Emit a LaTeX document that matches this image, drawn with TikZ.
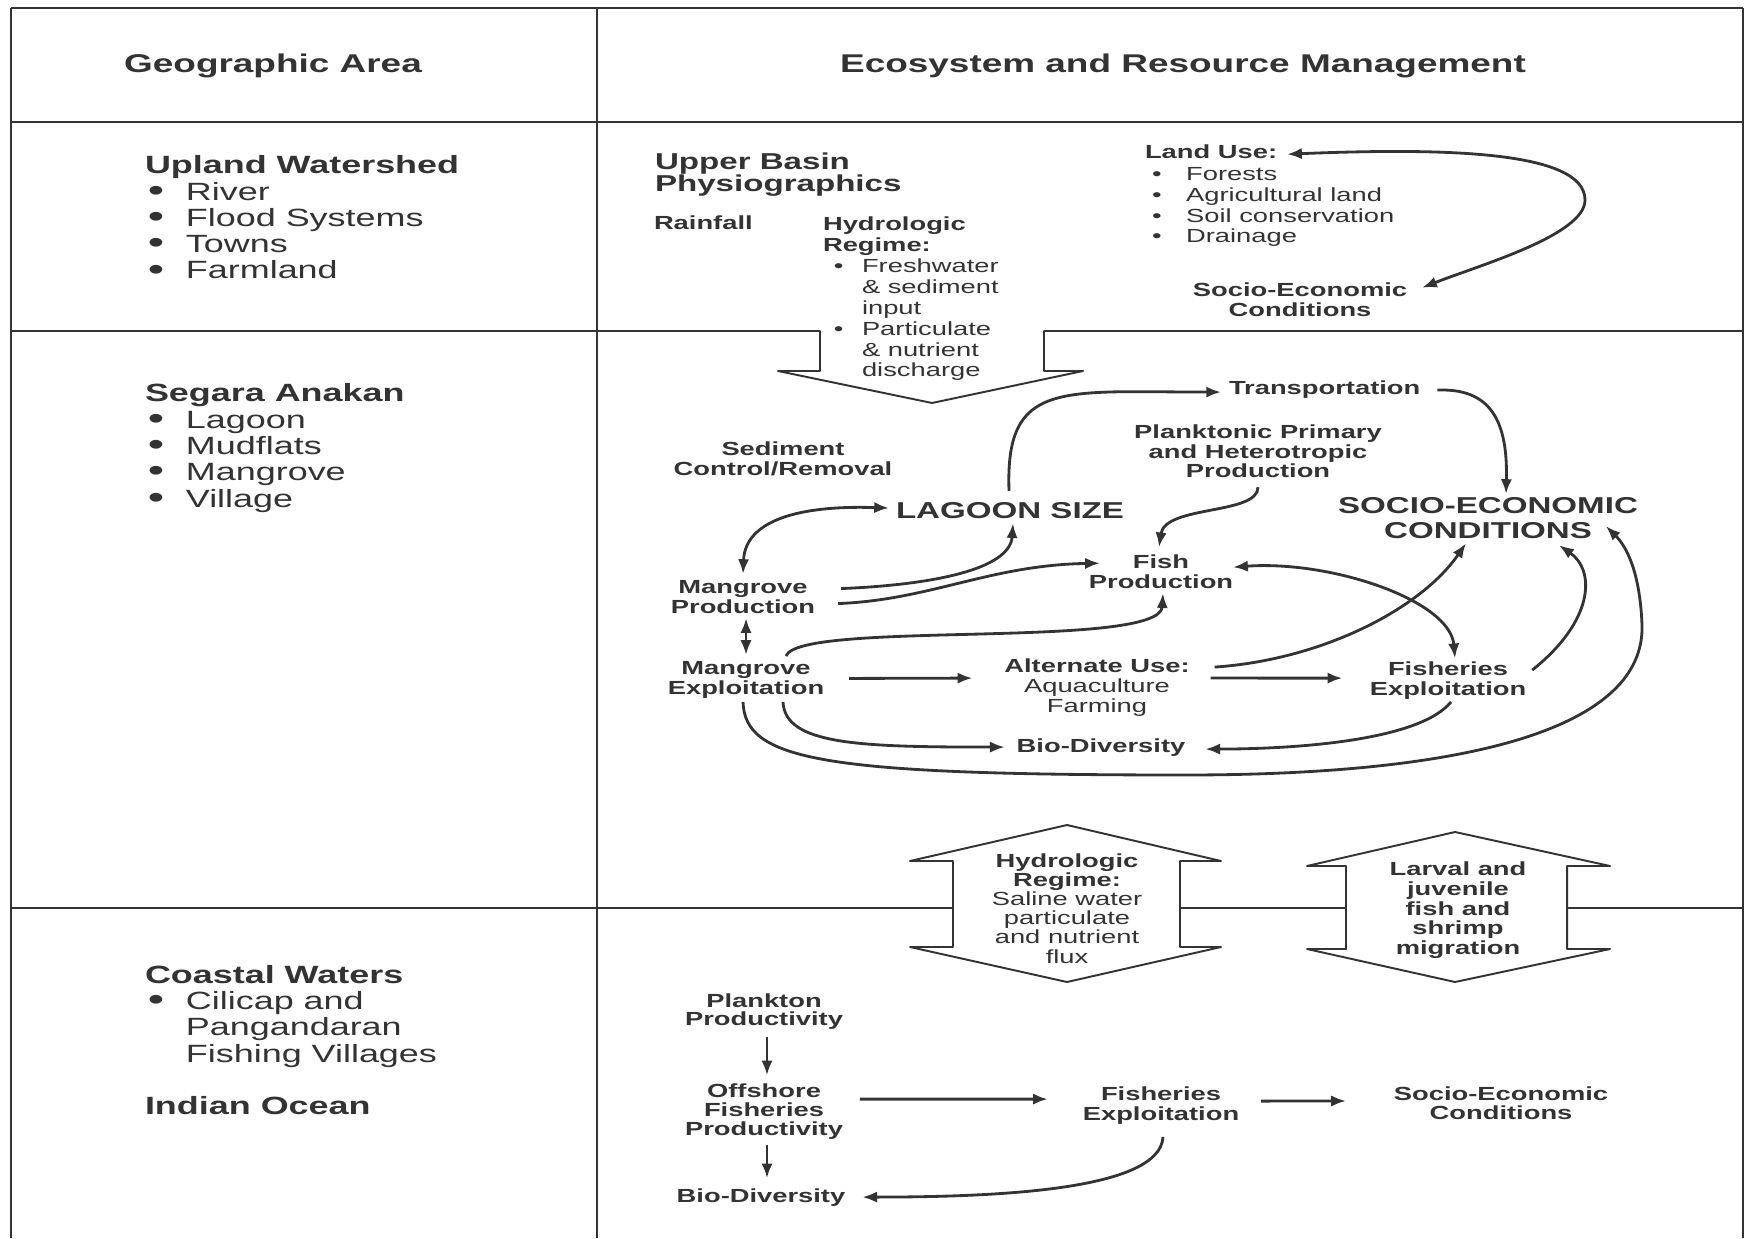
\documentclass[tikz,border=0pt]{standalone}
\usepackage{fontspec}
\usepackage{graphicx}
\setmainfont[FakeStretch=1.44]{Liberation Sans}
\usetikzlibrary{arrows.meta}
\definecolor{ink}{HTML}{333333}
\newcommand{\setfs}[2]{\fontsize{#1pt}{#2pt}\selectfont\lineskiplimit=-10pt\relax}
% left column bullets
\newcommand{\lbul}{\hspace*{0.85pt}\makebox[10.8pt][l]{\smash{\raisebox{-0.3pt}{\scalebox{1.3}{\textbullet}}}}}
\newcommand{\lind}{\hspace*{11.65pt}}
% Hydrologic regime bullets
\newcommand{\hbul}{\hspace*{3.1pt}\makebox[8pt][l]{\textbullet}}
\newcommand{\hind}{\hspace*{11.1pt}}
% Land use bullets
\newcommand{\ubul}{\hspace*{2pt}\makebox[9.7pt][l]{\textbullet}}
\tikzset{
  txt/.style={inner sep=0pt, outer sep=0pt, text=ink, align=center, anchor=base},
  hdr/.style={txt, font=\setfs{7.3}{8}\bfseries},
  lcol/.style={txt, align=left, anchor=base west, font=\setfs{7.1}{7.47}},
  bc/.style={txt, font=\setfs{5.4}{#1}\bfseries},
  bc/.default=5.69,
  bl/.style={txt, align=left, anchor=base west, font=\setfs{5.4}{#1}\bfseries},
  bl/.default=5.69,
  rl/.style={txt, align=left, anchor=base west, font=\setfs{5.4}{#1}},
  rl/.default=5.97,
  big/.style={txt, font=\setfs{6.54}{6.83}\bfseries},
  tbl/.style={draw=ink, line width=0.55pt},
  arr/.style={draw=ink, line width=0.8pt, -{Latex[length=4.2pt,width=3.2pt]}},
  darr/.style={draw=ink, line width=0.8pt, {Latex[length=4.2pt,width=3.2pt]}-{Latex[length=4.2pt,width=3.2pt]}}
}
\begin{document}
\begin{tikzpicture}[x=0.1mm,y=-0.1mm,line join=round]
\fill[white] (0,0) rectangle (1746,1238);
\useasboundingbox (0,0) rectangle (1746,1238);

% ---------- table frame ----------
\draw[tbl] (11,8) -- (1743,8);
\draw[tbl] (11,8) -- (11,1238);
\draw[tbl] (597,8) -- (597,1238);
\draw[tbl] (1743,8) -- (1743,1238);
\draw[tbl] (11,122) -- (1743,122);
% row line 1 with downward block arrow
\draw[tbl] (11,331) -- (820,331) -- (820,371) -- (778,371) -- (932,403) -- (1083,371) -- (1044,371) -- (1044,331) -- (1743,331);
% row line 2 with two double block arrows
\draw[tbl] (11,908) -- (953,908);
\draw[tbl] (1180,908) -- (1346,908);
\draw[tbl] (1567,908) -- (1743,908);
\draw[tbl] (953,861) -- (910,861) -- (1067,825) -- (1221,861) -- (1180,861) -- (1180,947) -- (1221,947) -- (1067,982) -- (910,947) -- (953,947) -- cycle;
\draw[tbl] (1346,866) -- (1307,866) -- (1455,832) -- (1610,866) -- (1567,866) -- (1567,949) -- (1610,949) -- (1455,982) -- (1307,949) -- (1346,949) -- cycle;

% ---------- headers ----------
\node[hdr] (ga) at (273,73) {Geographic Area};
\node[hdr] (erm) at (1183,73) {Ecosystem and Resource Management};

% ---------- left column (anchor = baseline of last line) ----------
\node[lcol] (uw) at (145,279) {\textbf{Upland Watershed}\\\lbul River\\\lbul Flood Systems\\\lbul Towns\\\lbul Farmland};
\node[lcol] (sa) at (145,507) {\textbf{Segara Anakan}\\\lbul Lagoon\\\lbul Mudflats\\\lbul Mangrove\\\lbul Village};
\node[lcol] (cw) at (145,1062) {\textbf{Coastal Waters}\\\lbul Cilicap and\\\lind Pangandaran\\\lind Fishing Villages};
\node[lcol] (io) at (145,1114) {\textbf{Indian Ocean}};

% ---------- row 1 ----------
\node[txt, align=left, anchor=base west, font=\setfs{6.54}{6.54}\bfseries] (ub) at (655,192) {Upper Basin\\Physiographics};
\node[bl] (rain) at (654,230) {Rainfall};
\node[rl=5.97] (hr) at (823,377) {\textbf{Hydrologic}\\\textbf{Regime:}\\\hbul Freshwater\\\hind\& sediment\\\hind input\\\hbul Particulate\\\hind\& nutrient\\\hind discharge};
\node[bl] (lu) at (1145,159) {Land Use:};
\node[rl=5.97] (lul) at (1145,243) {\ubul Forests\\\ubul Agricultural land\\\ubul Soil conservation\\\ubul Drainage};
\node[bc=5.97] (sec1) at (1300,317) {Socio-Economic\\Conditions};

% ---------- row 2 ----------
\node[bl] (trans) at (1229,395) {Transportation};
\node[bc=5.69] (plank) at (1258,478) {Planktonic Primary\\and Heterotropic\\Production};
\node[bc=5.69] (sed) at (783,475) {Sediment\\Control/Removal};
\node[big] (lagoon) at (1010,518) {LAGOON SIZE};
\node[big] (soc2) at (1488,538) {SOCIO-ECONOMIC\\CONDITIONS};
\node[bc=5.69] (fish) at (1161,588) {Fish\\Production};
\node[bc=5.69] (mprod) at (743,613) {Mangrove\\Production};
\node[bc=5.69] (mexp) at (746,694) {Mangrove\\Exploitation};
\node[bc=5.55] (alt) at (1097,712) {Alternate Use:\\\mdseries Aquaculture\\\mdseries Farming};
\node[bc=5.69] (fisher) at (1448,695) {Fisheries\\Exploitation};
\node[bc=5.69] (bio) at (1101,752) {Bio-Diversity};

% ---------- block arrow texts ----------
\node[bc=5.46] (hyd) at (1067,963) {Hydrologic\\Regime:\\\mdseries Saline water\\\mdseries particulate\\\mdseries and nutrient\\\mdseries flux};
\node[bc=5.55] (larv) at (1458,954) {Larval and\\juvenile\\fish and\\shrimp\\migration};

% ---------- row 3 ----------
\node[bc=5.12] (plk) at (764,1025) {Plankton\\Productivity};
\node[bc=5.4] (off) at (764,1135) {Offshore\\Fisheries\\Productivity};
\node[bc] (bio3) at (761,1202) {Bio-Diversity};
\node[bc=5.69] (fe3) at (1161,1120) {Fisheries\\Exploitation};
\node[bc=5.55] (sec3) at (1501,1119.5) {Socio-Economic\\Conditions};

% ---------- connectors row 1 ----------
\draw[darr] ([shift={(10,2)}]lu.east) .. controls (1440,148) and (1585,150) .. (1585,200) .. controls (1585,235) and (1480,265) .. ([shift={(15,-12)}]sec1.east);

% ---------- connectors row 2 ----------
\draw[arr] ([shift={(-1,-11)}]lagoon.north) .. controls (1005,380) and (1060,392) .. ([shift={(-8,2)}]trans.west);
\draw[arr] ([shift={(17,0)}]trans.east) .. controls (1490,388) and (1508,420) .. ([shift={(18,-4)}]soc2.north);
\draw[arr] ([shift={(0,9)}]plank.south) .. controls (1258,515) and (1165,505) .. ([shift={(-2,-7)}]fish.north);
\draw[darr] ([shift={(-7,-2)}]lagoon.west) .. controls (800,505) and (745,520) .. ([shift={(0,-6)}]mprod.north);
\draw[arr] ([shift={(26,-8)}]mprod.east) .. controls (930,585) and (1010,570) .. ([shift={(3,5)}]lagoon.south);
\draw[arr] ([shift={(23,7)}]mprod.east) .. controls (930,600) and (990,565) .. ([shift={(11,-8)}]fish.west);
\draw[darr] ([shift={(3,5)}]mprod.south) -- ([shift={(0,-6)}]mexp.north);
\draw[arr] ([shift={(40,-5)}]mexp.north) .. controls (800,620) and (1160,650) .. ([shift={(2,5)}]fish.south);
\draw[arr] ([shift={(25,-1)}]mexp.east) -- ([shift={(-32,-9.5)}]alt.west);
\draw[arr] ([shift={(21,-9.5)}]alt.east) -- ([shift={(-27.5,-2)}]fisher.west);
\draw[arr] ([shift={(25,-20.5)}]alt.east) .. controls (1320,660) and (1420,610) .. ([shift={(-22,5)}]soc2.south);
\draw[darr] ([shift={(0,-4)}]fish.east) .. controls (1330,560) and (1450,600) .. ([shift={(7,-3)}]fisher.north);
\draw[arr] ([shift={(6,-10)}]fisher.east) .. controls (1595,620) and (1595,570) .. ([shift={(71,7)}]soc2.south);
\draw[arr] ([shift={(-3,4)}]mexp.south) .. controls (745,760) and (820,775) .. (1185,775) .. controls (1480,775) and (1645,725) .. (1642,625) .. controls (1640,575) and (1628,548) .. ([shift={(-32,8)}]soc2.east);
\draw[arr] ([shift={(37,4)}]mexp.south) .. controls (785,745) and (860,747) .. ([shift={(-12,0)}]bio.west);
\draw[arr] ([shift={(3,3)}]fisher.south) .. controls (1420,740) and (1300,749) .. ([shift={(20,2)}]bio.east);

% ---------- connectors row 3 ----------
\draw[arr] ([shift={(3,8)}]plk.south) -- ([shift={(3,-8)}]off.north);
\draw[arr] ([shift={(3,6)}]off.south) -- ([shift={(6,-10)}]bio3.north);
\draw[arr] ([shift={(17,-12)}]off.east) -- ([shift={(-35,-6)}]fe3.west);
\draw[arr] ([shift={(22,-4)}]fe3.east) -- ([shift={(-48,-2)}]sec3.west);
\draw[arr] ([shift={(2,13)}]fe3.south) .. controls (1160,1190) and (1000,1197) .. ([shift={(17,0)}]bio3.east);
\end{tikzpicture}
\end{document}
